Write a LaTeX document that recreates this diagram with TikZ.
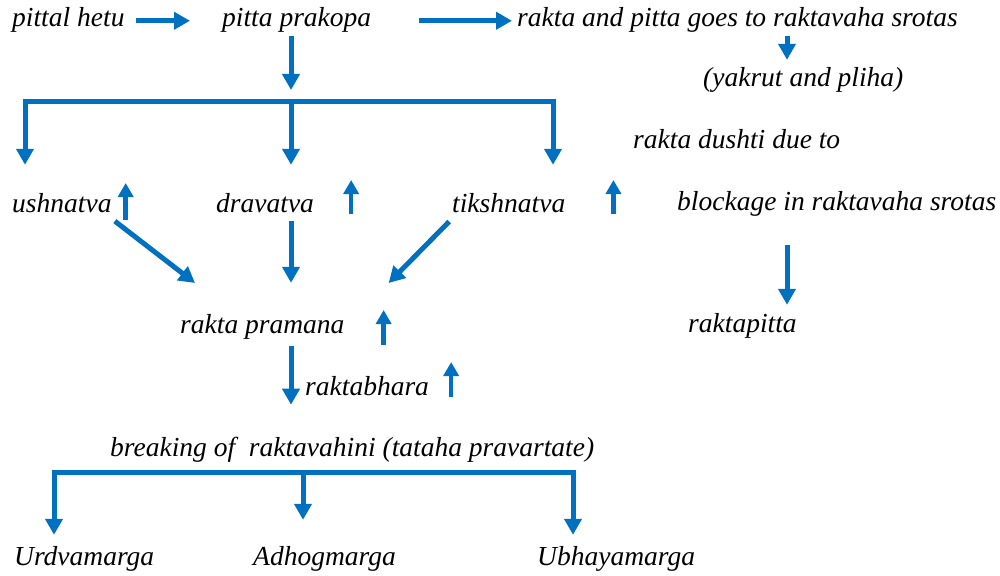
\documentclass[tikz,border=0pt]{standalone}
\usepackage{fontspec}
\setmainfont{Liberation Serif}
\usetikzlibrary{arrows.meta,calc}
\definecolor{flowblue}{HTML}{0070C0}
\tikzset{
	txt/.style={font=\fontsize{27.5}{32}\selectfont\itshape, anchor=base west, inner sep=0pt, text height=19pt, text depth=6.5pt},
	flow/.style={draw=flowblue, line width=5pt, -{Triangle[length=16pt,width=17pt]}},
	hbar/.style={draw=flowblue, line width=5pt, line cap=rect},
	rise/.style={draw=flowblue, line width=4.5pt, -{Triangle[length=14pt,width=15pt]}}
}

\begin{document}
\begin{tikzpicture}[x=1pt,y=-1pt]
			%%%%% START %%%%%
			\useasboundingbox (0,0) rectangle (1000,575);
			
			\node[txt] (hetu) at (12,27) {pittal hetu};
			\node[txt] (prakopa) at (222,27) {pitta prakopa};
			\node[txt] (goes) at (517,27) {rakta and pitta goes to raktavaha srotas};
			\node[txt] (yakrut) at (703,87) {(yakrut and pliha)};
			
			\coordinate (ydrop) at (787,0);
			\draw[flow, shorten <=11pt, shorten >=32pt] (hetu.east) -- (prakopa.west);
			\draw[flow, shorten <=48pt, shorten >=5pt] (prakopa.east) -- (goes.west);
			\draw[flow, shorten <=2pt, shorten >=8pt] (goes.south -| ydrop) -- (yakrut.north -| ydrop);
			
			\coordinate (barL) at (25,102);
			\coordinate (barM) at (291,102);
			\coordinate (barR) at (553,102);
			\draw[flow, shorten <=2pt, shorten >=12pt] (prakopa.south -| barM) -- (barM);
			\draw[hbar] (barL) -- (barR);
			
			\node[txt] (dushti) at (633,148) {rakta dushti due to};
			\node[txt] (ushnatva) at (12,212) {ushnatva};
			\node[txt] (dravatva) at (216,212) {dravatva};
			\node[txt] (tikshnatva) at (452,212) {tikshnatva};
			\node[txt] (blockage) at (677,210) {blockage in raktavaha srotas};
			
			\draw[flow, shorten >=28pt] (barL) -- (barL |- ushnatva.north);
			\draw[flow, shorten >=28pt] (barM) -- (barM |- dravatva.north);
			\draw[flow, shorten >=28pt] (barR) -- (barR |- tikshnatva.north);
			
			\draw[rise] (ushnatva.base east) ++(14,8) -- ++(0,-37);
			\draw[rise] (dravatva.base east) ++(37,2) -- ++(0,-34);
			\draw[rise] (tikshnatva.base east) ++(48,2) -- ++(0,-34);
			
			\node[txt] (pramana) at (180,333) {rakta pramana};
			\node[txt] (raktapitta) at (688,332) {raktapitta};
			
			\draw[flow, shorten <=4pt] (ushnatva.south east) -- ($(pramana.base west)+(15,-50)$);
			\draw[flow, shorten <=2pt, shorten >=31pt] (dravatva.south -| barM) -- (pramana.north -| barM);
			\draw[flow, shorten <=4pt] (tikshnatva.south west) -- ($(pramana.base east)+(44,-50)$);
			\draw[rise] (pramana.base east) ++(39,12) -- ++(0,-35);
			\draw[flow, shorten <=28pt, shorten >=8pt] (blockage.south -| ydrop) -- (raktapitta.north -| ydrop);
			
			\node[txt] (raktabhara) at (305,395) {raktabhara};
			\draw[flow, shorten <=6pt, shorten >=-3pt] (pramana.south -| barM) -- (raktabhara.south -| barM);
			\draw[rise] (raktabhara.base east) ++(22,2) -- ++(0,-35);
			
			\node[txt] (breaking) at (110,456) {breaking of\ \ raktavahini (tataha pravartate)};
			
			\coordinate (lowL) at (54,472);
			\coordinate (lowM) at (303,472);
			\coordinate (lowR) at (573,472);
			\draw[hbar] (lowL) -- (lowR);
			
			\node[txt] (urdva) at (14,565) {Urdvamarga};
			\node[txt] (adho) at (253,565) {Adhogmarga};
			\node[txt] (ubhaya) at (537,565) {Ubhayamarga};
			
			\draw[flow, shorten >=11pt] (lowL) -- (lowL |- urdva.north);
			\draw[flow, shorten >=26pt] (lowM) -- (lowM |- adho.north);
			\draw[flow, shorten >=11pt] (lowR) -- (lowR |- ubhaya.north);
			%%%%% END %%%%%
\end{tikzpicture}
\end{document}
